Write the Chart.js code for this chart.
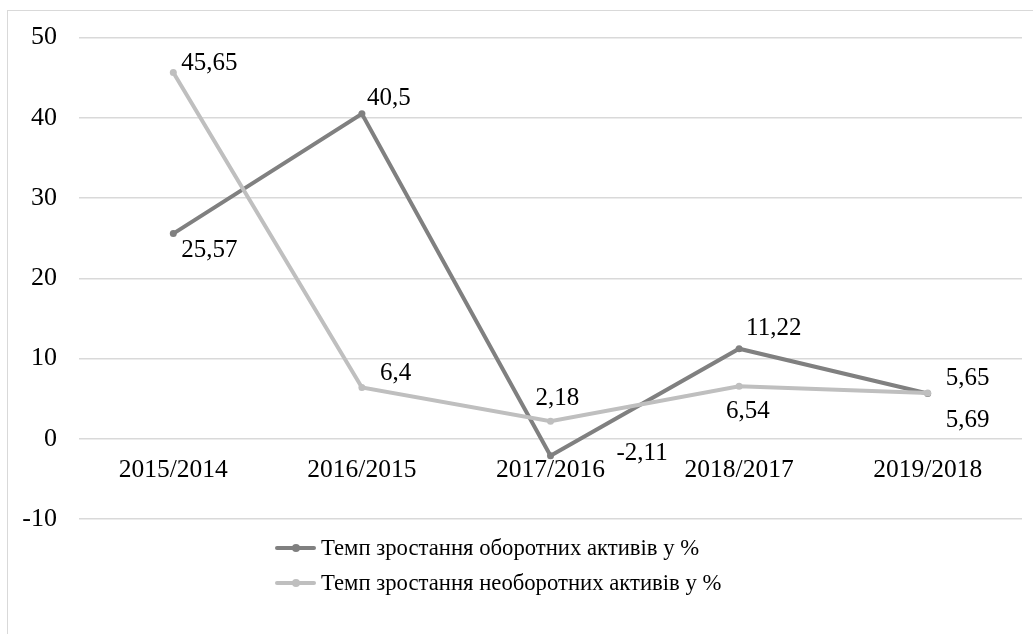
<!DOCTYPE html>
<html>
<head>
<meta charset="utf-8">
<script src="https://cdn.jsdelivr.net/npm/chart.js@4.4.0/dist/chart.umd.min.js"></script>
<style>
  html, body { margin: 0; padding: 0; background: #fff; }
  body { width: 1033px; height: 634px; position: relative; overflow: hidden; font-family: "Liberation Serif", "Times New Roman", serif; }
  #frame { position: absolute; left: 7px; top: 10px; width: 1040px; height: 640px; border: 1px solid #d9d9d9; box-sizing: border-box; }
  #wrap { position: absolute; left: 0; top: 0; width: 1033px; height: 634px; }
  #legend { position: absolute; left: 275px; top: 530px; font-size: 22.7px; color: #000; }
  .item { height: 35px; line-height: 30px; display: flex; align-items: center; }
  .sym { width: 41px; height: 4px; position: relative; margin-right: 5px; border-radius: 2px; }
  .sym i { position: absolute; left: 17px; top: -2px; width: 8px; height: 8px; border-radius: 50%; background: inherit; }
</style>
</head>
<body>
<div id="frame"></div>
<div id="wrap"><canvas id="myChart"></canvas></div>
<div id="legend"></div>
<script>
var categories = ['2015/2014', '2016/2015', '2017/2016', '2018/2017', '2019/2018'];
var currentAssets = [25.57, 40.5, -2.11, 11.22, 5.65];
var fixedAssets = [45.65, 6.4, 2.18, 6.54, 5.69];
var seriesNames = ['Темп зростання оборотних активів у %', 'Темп зростання необоротних активів у %'];
var yTicks = [-10, 0, 10, 20, 30, 40, 50];

var darkColor = '#808080';
var lightColor = '#bfbfbf';

// where each value label sits relative to its point (left edge, middle)
var labelOffsets = [
    [[8, 17], [5, -15], [66, -2], [7, -20], [18, -15]],
    [[8, -9], [18, -14], [-15, -23], [-13, 25], [18, 27]]
];

var valueLabels = {
    id: 'valueLabels',
    afterDatasetsDraw: function (chart) {
        var ctx = chart.ctx;
        ctx.save();
        ctx.font = '25px "Liberation Serif"';
        ctx.fillStyle = '#000';
        ctx.textAlign = 'left';
        ctx.textBaseline = 'middle';
        chart.data.datasets.forEach(function (ds, d) {
            var meta = chart.getDatasetMeta(d);
            meta.data.forEach(function (pt, i) {
                var off = labelOffsets[d][i];
                var txt = String(ds.data[i]).replace('.', ',');
                ctx.fillText(txt, pt.x + off[0], pt.y + off[1]);
            });
        });
        ctx.restore();
    }
};

var dataset = [{
    label: seriesNames[0],
    data: currentAssets,
    borderColor: darkColor,
    backgroundColor: darkColor,
    order: 1
}, {
    label: seriesNames[1],
    data: fixedAssets,
    borderColor: lightColor,
    backgroundColor: lightColor,
    order: 0
}];

var ctx = document.getElementById('myChart');
var myChart = new Chart(ctx, {
    type: 'line',
    data: {
        labels: categories,
        datasets: dataset
    },
    options: {
        responsive: true,
        maintainAspectRatio: false,
        animation: false,
        layout: { padding: { left: 0, top: 36, right: 11, bottom: 115 } },
        elements: {
            line: { borderWidth: 4, tension: 0 },
            point: { radius: 3.5, borderWidth: 0, hoverRadius: 3.5 }
        },
        plugins: {
            legend: { display: false },
            tooltip: { enabled: false }
        },
        scales: {
            x: {
                offset: true,
                position: { y: 0 },
                grid: { display: false, drawTicks: false },
                border: { display: false },
                ticks: {
                    color: '#000',
                    padding: 16,
                    maxRotation: 0,
                    font: { family: 'Liberation Serif', size: 25.5 }
                }
            },
            y: {
                min: -10,
                max: 50,
                afterFit: function (scale) { scale.width = 79; },
                afterBuildTicks: function (scale) {
                    scale.ticks = yTicks.map(function (v) { return { value: v }; });
                },
                grid: { color: '#d9d9d9', lineWidth: 1.5, drawTicks: false },
                border: { display: false },
                ticks: {
                    color: '#000',
                    padding: 22,
                    font: { family: 'Liberation Serif', size: 26 }
                }
            }
        }
    },
    plugins: [valueLabels]
});

// legend as html so both rows start at the same x
var legend = document.getElementById('legend');
dataset.forEach(function (ds) {
    var row = document.createElement('div');
    row.className = 'item';
    var sym = document.createElement('span');
    sym.className = 'sym';
    sym.style.background = ds.borderColor;
    sym.appendChild(document.createElement('i'));
    row.appendChild(sym);
    var txt = document.createElement('span');
    txt.textContent = ds.label;
    row.appendChild(txt);
    legend.appendChild(row);
});
</script>
</body>
</html>
